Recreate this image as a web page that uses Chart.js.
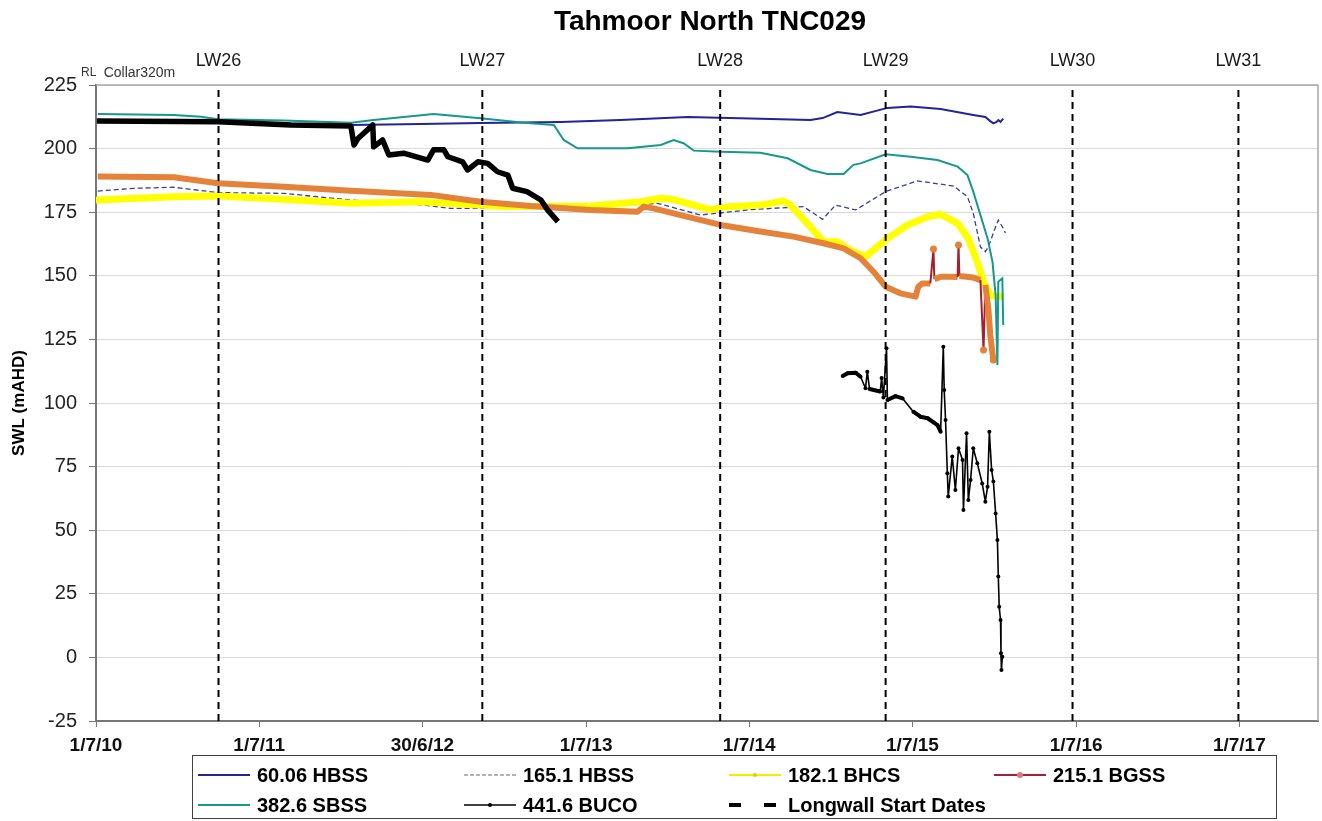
<!DOCTYPE html>
<html>
<head>
<meta charset="utf-8">
<script src="https://cdn.jsdelivr.net/npm/chart.js@4.4.1/dist/chart.umd.min.js"></script>
<style>
  html, body { margin: 0; padding: 0; background: #fff; }
  canvas { display: block; }
</style>
</head>
<body>
<canvas id="chart" width="1322" height="821"></canvas>
<script>
// Tahmoor North TNC029 - niveles de agua (SWL) por piezometro
var TITLE = 'Tahmoor North TNC029';
var Y_TITLE = 'SWL (mAHD)';

var xStart = '2010-07-01';
var xEnd = '2017-12-24';
var xTickDates = ['2010-07-01', '2011-07-01', '2012-06-30', '2013-07-01', '2014-07-01', '2015-07-01', '2016-07-01', '2017-07-01'];
var xTickLabels = ['1/7/10', '1/7/11', '30/6/12', '1/7/13', '1/7/14', '1/7/15', '1/7/16', '1/7/17'];

var lwNames = ['LW26', 'LW27', 'LW28', 'LW29', 'LW30', 'LW31'];
var lwDates = ['2011-04-01', '2012-11-11', '2014-04-27', '2015-05-02', '2016-06-23', '2017-06-29'];

var seriesNames = ['60.06 HBSS', '165.1 HBSS', '182.1 BHCS', '215.1 BGSS', '382.6 SBSS', '441.6 BUCO', 'Longwall Start Dates'];

var hbss60Dates = ['2010-07-03', '2011-02-21', '2011-10-02', '2012-01-22', '2012-06-26', '2012-11-07', '2013-05-05', '2013-09-16', '2014-02-13', '2014-07-04', '2014-11-15', '2014-12-12', '2015-01-14', '2015-03-07', '2015-05-06', '2015-06-27', '2015-09-02', '2015-11-14', '2015-12-11', '2015-12-22', '2015-12-29', '2016-01-05', '2016-01-09', '2016-01-14', '2016-01-20'];
var hbss60Values = [210.8, 210.5, 209.7, 209.3, 209.7, 210.1, 210.5, 211.2, 212.4, 211.8, 211.2, 212.0, 214.4, 213.2, 216.0, 216.5, 215.6, 213.2, 212.4, 210.8, 209.9, 210.5, 211.2, 210.5, 211.8];

var hbss165Dates = ['2010-07-05', '2010-09-24', '2010-12-22', '2011-03-31', '2011-08-25', '2012-01-22', '2012-07-03', '2012-09-01', '2012-12-29', '2013-06-19', '2013-12-08', '2014-03-14', '2014-07-04', '2014-10-30', '2014-12-12', '2015-01-10', '2015-02-24', '2015-05-02', '2015-07-12', '2015-10-01', '2015-11-01', '2015-11-14', '2015-11-30', '2015-12-11', '2015-12-18', '2016-01-03', '2016-01-09', '2016-01-18', '2016-01-25'];
var hbss165Values = [183.3, 184.4, 184.8, 182.7, 182.4, 179.8, 177.8, 176.5, 176.5, 177.0, 178.5, 173.9, 176.0, 177.2, 172.2, 177.8, 175.9, 183.1, 187.3, 185.3, 181.1, 174.6, 161.4, 159.5, 161.4, 169.3, 171.9, 169.3, 166.8];

var bhcsDates = ['2010-07-05', '2010-12-22', '2011-03-31', '2011-08-25', '2012-01-22', '2012-06-26', '2012-12-29', '2013-07-11', '2013-10-31', '2013-12-15', '2014-01-06', '2014-02-13', '2014-04-06', '2014-04-28', '2014-07-26', '2014-09-16', '2014-10-01', '2014-11-08', '2014-12-14', '2015-01-14', '2015-02-12', '2015-03-18', '2015-05-02', '2015-06-20', '2015-08-04', '2015-09-02', '2015-10-10', '2015-11-03', '2015-11-23', '2015-12-07', '2015-12-22', '2016-01-14'];
var bhcsValues = [179.8, 181.1, 181.4, 180.1, 178.5, 179.1, 177.2, 177.4, 179.1, 180.5, 180.2, 178.5, 175.9, 176.9, 177.8, 179.4, 177.8, 170.6, 163.4, 163.4, 160.1, 157.5, 164.1, 170.0, 173.2, 174.2, 170.6, 164.7, 155.5, 147.7, 142.4, 141.8];

var bgssDates = ['2010-07-05', '2010-12-22', '2011-03-31', '2011-08-25', '2012-01-22', '2012-07-19', '2012-11-07', '2013-02-27', '2013-07-11', '2013-10-24', '2013-11-07', '2013-11-29', '2014-02-27', '2014-04-28', '2014-07-26', '2014-10-08', '2014-12-14', '2015-01-28', '2015-03-07', '2015-04-05', '2015-05-02', '2015-06-04', '2015-07-08', '2015-07-14', '2015-07-23', '2015-08-10', '2015-08-17', '2015-08-19', '2015-09-02', '2015-09-24', '2015-10-10', '2015-10-12', '2015-10-14', '2015-11-14', '2015-11-30', '2015-12-07', '2015-12-11', '2015-12-18', '2015-12-22', '2015-12-29'];
var bgssValues = [189.0, 188.7, 186.4, 185.0, 183.4, 181.8, 179.1, 177.4, 175.9, 175.2, 177.2, 176.5, 172.6, 170.0, 167.4, 165.4, 162.8, 160.8, 156.9, 151.6, 145.7, 143.1, 141.8, 145.7, 147.0, 147.0, 160.5, 148.7, 149.6, 149.6, 149.5, 162.1, 149.9, 149.3, 148.3, 120.8, 146.4, 136.6, 126.7, 116.9];

var sbssDates = ['2010-07-05', '2010-12-22', '2011-02-21', '2011-03-31', '2011-08-25', '2012-01-22', '2012-03-13', '2012-07-25', '2012-11-07', '2013-02-12', '2013-04-20', '2013-05-12', '2013-06-12', '2013-10-02', '2013-12-15', '2014-01-13', '2014-02-04', '2014-02-27', '2014-04-28', '2014-07-26', '2014-09-25', '2014-11-15', '2014-12-23', '2015-01-28', '2015-02-19', '2015-03-07', '2015-05-02', '2015-06-27', '2015-08-26', '2015-10-10', '2015-11-01', '2015-11-14', '2015-11-30', '2015-12-16', '2015-12-27', '2016-01-03', '2016-01-07', '2016-01-09', '2016-01-18', '2016-01-20'];
var sbssValues = [213.6, 213.2, 212.5, 211.5, 211.0, 210.2, 211.2, 213.6, 211.9, 210.2, 209.3, 203.4, 200.1, 200.1, 201.4, 203.4, 202.1, 199.2, 198.8, 198.4, 196.2, 191.6, 190.0, 190.0, 193.6, 194.2, 197.8, 196.8, 195.5, 192.9, 189.6, 183.1, 173.9, 164.7, 155.5, 142.4, 114.9, 147.7, 149.0, 130.7];

// null = sin lecturas entre los dos periodos
var bucoDates = ['2010-07-03', '2011-03-31', '2011-09-10', '2012-01-22', '2012-01-29', '2012-02-07', '2012-03-11', '2012-03-13', '2012-04-02', '2012-04-16', '2012-05-19', '2012-07-12', '2012-07-25', '2012-08-17', '2012-08-26', '2012-09-28', '2012-10-09', '2012-11-01', '2012-11-23', '2012-12-15', '2013-01-07', '2013-01-18', '2013-02-19', '2013-03-22', '2013-04-06', '2013-04-29',
  '2014-01-01',
  '2015-01-26', '2015-02-06', '2015-02-24', '2015-03-07', '2015-03-18', '2015-03-22', '2015-03-27', '2015-04-20', '2015-04-23', '2015-04-27', '2015-05-04', '2015-05-06', '2015-05-24', '2015-06-09', '2015-07-03', '2015-07-19', '2015-08-04', '2015-08-26', '2015-09-02', '2015-09-08', '2015-09-10', '2015-09-13', '2015-09-17', '2015-09-19', '2015-09-28', '2015-10-05', '2015-10-12', '2015-10-21', '2015-10-23', '2015-10-30', '2015-11-03', '2015-11-08', '2015-11-14', '2015-11-23', '2015-12-04', '2015-12-11', '2015-12-16', '2015-12-20', '2015-12-25', '2015-12-29', '2016-01-03', '2016-01-07', '2016-01-09', '2016-01-11', '2016-01-14', '2016-01-15', '2016-01-16', '2016-01-18'];
var bucoValues = [210.8, 210.6, 209.3, 208.9, 201.4, 204.0, 209.3, 200.7, 203.4, 197.5, 198.2, 195.5, 199.5, 199.5, 196.8, 194.8, 191.6, 194.8, 194.2, 190.9, 189.6, 184.4, 183.1, 179.8, 175.9, 171.3,
  null,
  110.6, 111.7, 111.9, 110.3, 105.8, 112.3, 105.5, 104.5, 109.8, 102.2, 121.5, 101.2, 102.7, 101.8, 96.6, 94.6, 94.0, 91.3, 88.7, 122.1, 105.1, 93.3, 72.4, 63.2, 79.0, 65.8, 82.2, 77.6, 57.9, 88.1, 61.9, 69.7, 82.2, 76.3, 68.4, 61.2, 67.1, 88.7, 73.7, 69.1, 56.6, 46.1, 31.8, 19.9, 14.7, 1.6, -5.0, 0.3];

var FONT = "'Liberation Sans', Arial, sans-serif";
Chart.defaults.font.family = FONT;

function dayOf(s) {
  var p = s.split('-');
  return (Date.UTC(+p[0], +p[1] - 1, +p[2]) - Date.UTC(2010, 6, 1)) / 86400000;
}

function points(dates, values) {
  return dates.map(function (d, i) { return { x: dayOf(d), y: values[i] }; });
}

var LOGGER_END = dayOf('2014-01-01');

function lwPoints() {
  var out = [];
  lwDates.forEach(function (d) {
    out.push({ x: dayOf(d), y: -25 }, { x: dayOf(d), y: 225 }, { x: dayOf(d), y: null });
  });
  return out;
}

function jump(ctx) { return Math.abs(ctx.p1.parsed.y - ctx.p0.parsed.y); }

function tipRadius(c) {
  var d = c.dataset.data, i = c.dataIndex;
  if (i == null || !d[i]) return 0;
  if (i === d.length - 1) return 3.5;
  if (i === 0) return 0;
  var up = Math.abs(d[i].y - d[i - 1].y), dn = Math.abs(d[i].y - d[i + 1].y);
  return (up > 11 && dn > 11) ? 3.5 : 0;
}

var datasets = [
  { label: seriesNames[0], data: points(hbss60Dates, hbss60Values), borderColor: '#23239a', borderWidth: 2, order: 3 },
  { label: seriesNames[1], data: points(hbss165Dates, hbss165Values), borderColor: '#3c3c9c', borderWidth: 1.3, borderDash: [5, 3], order: 6 },
  { label: seriesNames[2], data: points(bhcsDates, bhcsValues), borderColor: '#ffff00', borderWidth: 7, borderJoinStyle: 'round', borderCapStyle: 'round', order: 5 },
  { label: seriesNames[3], data: points(bgssDates, bgssValues), borderColor: '#e4823a', borderWidth: 6, borderJoinStyle: 'round', order: 4,
    pointRadius: tipRadius, pointBackgroundColor: '#e4823a', pointBorderColor: '#e4823a', pointBorderWidth: 0,
    segment: {
      borderColor: function (ctx) { return jump(ctx) > 11 ? '#a3202e' : '#e4823a'; },
      borderWidth: function (ctx) { return jump(ctx) > 11 ? 2 : 6; }
    } },
  { label: seriesNames[4], data: points(sbssDates, sbssValues), borderColor: '#15998a', borderWidth: 2, order: 2 },
  { label: seriesNames[5], data: points(bucoDates, bucoValues), borderColor: '#000', borderWidth: 1.6, borderJoinStyle: 'round', order: 1,
    pointRadius: function (c) { return (c.raw && c.raw.x >= LOGGER_END) ? 2 : 0; },
    pointBackgroundColor: '#000', pointBorderWidth: 0,
    segment: {
      borderWidth: function (ctx) {
        if (ctx.p1.parsed.x < LOGGER_END) return 5.5;
        return jump(ctx) < 3 ? 4 : 1.6;
      }
    } },
  { label: seriesNames[6], data: lwPoints(), borderColor: '#000', borderWidth: 2, borderDash: [7, 5], order: 0 }
];

var legendStyles = [
  { color: '#23239a', width: 2 },
  { color: '#9a9a9a', width: 1.5, dash: [4, 2] },
  { color: '#f2ee00', width: 2, marker: '#d6d000', mr: 2 },
  { color: '#a3203a', width: 2, marker: '#d77b8a', mr: 3 },
  { color: '#15998a', width: 2 },
  { color: '#000', width: 1.5, marker: '#000', mr: 2 },
  { color: '#000', width: 4, dash: [12, 23] }
];

function drawLegend(ctx) {
  ctx.save();
  ctx.strokeStyle = '#404040';
  ctx.lineWidth = 1;
  ctx.strokeRect(192.5, 755.5, 1084, 63);
  var cols = [198, 464, 729, 994], rows = [775, 805];
  ctx.font = 'bold 20px ' + FONT;
  ctx.textBaseline = 'middle';
  ctx.fillStyle = '#000';
  seriesNames.forEach(function (name, i) {
    var x = cols[i % 4], y = rows[Math.floor(i / 4)], st = legendStyles[i];
    ctx.save();
    ctx.strokeStyle = st.color;
    ctx.lineWidth = st.width;
    ctx.setLineDash(st.dash || []);
    ctx.beginPath(); ctx.moveTo(x, y); ctx.lineTo(x + 52, y); ctx.stroke();
    if (st.marker) {
      ctx.setLineDash([]);
      ctx.fillStyle = st.marker;
      ctx.beginPath(); ctx.arc(x + 26, y, st.mr, 0, Math.PI * 2); ctx.fill();
    }
    ctx.restore();
    ctx.fillText(name, x + 59, y + 1);
  });
  ctx.restore();
}

var decor = {
  id: 'decor',
  beforeDatasetsDraw: function (chart) {
    var a = chart.chartArea, ctx = chart.ctx;
    ctx.save();
    ctx.strokeStyle = '#a8a8a8';
    ctx.lineWidth = 1.5;
    ctx.beginPath();
    ctx.moveTo(a.left, a.top);
    ctx.lineTo(a.right, a.top);
    ctx.lineTo(a.right, a.bottom);
    ctx.stroke();
    ctx.restore();
  },
  afterDraw: function (chart) {
    var ctx = chart.ctx, xs = chart.scales.x;
    ctx.save();
    ctx.fillStyle = '#000';
    ctx.textBaseline = 'middle';
    ctx.textAlign = 'center';
    ctx.font = 'bold 28px ' + FONT;
    ctx.fillText(TITLE, 710, 22);

    ctx.font = '18px ' + FONT;
    ctx.fillStyle = '#1a1a1a';
    lwNames.forEach(function (n, i) {
      ctx.fillText(n, xs.getPixelForValue(dayOf(lwDates[i])), 61);
    });

    ctx.textAlign = 'left';
    ctx.fillStyle = '#333';
    ctx.font = '12px ' + FONT;
    ctx.fillText('RL', 81, 73);
    var w = ctx.measureText('RL ').width;
    ctx.font = '14px ' + FONT;
    ctx.fillText('Collar320m', 81 + w + 4, 73);
    ctx.restore();

    drawLegend(ctx);
  }
};

new Chart(document.getElementById('chart'), {
  type: 'line',
  data: { datasets: datasets },
  options: {
    responsive: false,
    animation: false,
    events: [],
    spanGaps: false,
    layout: { padding: { top: 85, right: 4, left: 0, bottom: 0 } },
    elements: { line: { tension: 0 }, point: { radius: 0 } },
    plugins: { legend: { display: false }, title: { display: false }, tooltip: { enabled: false } },
    scales: {
      x: {
        type: 'linear',
        min: dayOf(xStart),
        max: dayOf(xEnd),
        afterBuildTicks: function (s) {
          s.ticks = xTickDates.map(function (d) { return { value: dayOf(d) }; });
        },
        afterFit: function (s) { s.height = 100; },
        ticks: {
          autoSkip: false, maxRotation: 0, padding: 7, color: '#111',
          font: { size: 19, weight: 'bold' },
          callback: function (v, i) { return xTickLabels[i]; }
        },
        grid: { drawOnChartArea: false, drawTicks: true, tickLength: 6, tickColor: '#777' },
        border: { color: '#777', width: 2 }
      },
      y: {
        min: -25,
        max: 225,
        afterFit: function (s) { s.width = 96; },
        ticks: { stepSize: 25, padding: 12, color: '#222', font: { size: 20 } },
        grid: { color: '#d9d9d9', lineWidth: 1, tickLength: 7, tickColor: '#777' },
        border: { color: '#777', width: 2 },
        title: { display: true, text: Y_TITLE, color: '#000', font: { size: 17, weight: 'bold' }, padding: { top: 9, bottom: 0 } }
      }
    }
  },
  plugins: [decor]
});
</script>
</body>
</html>
